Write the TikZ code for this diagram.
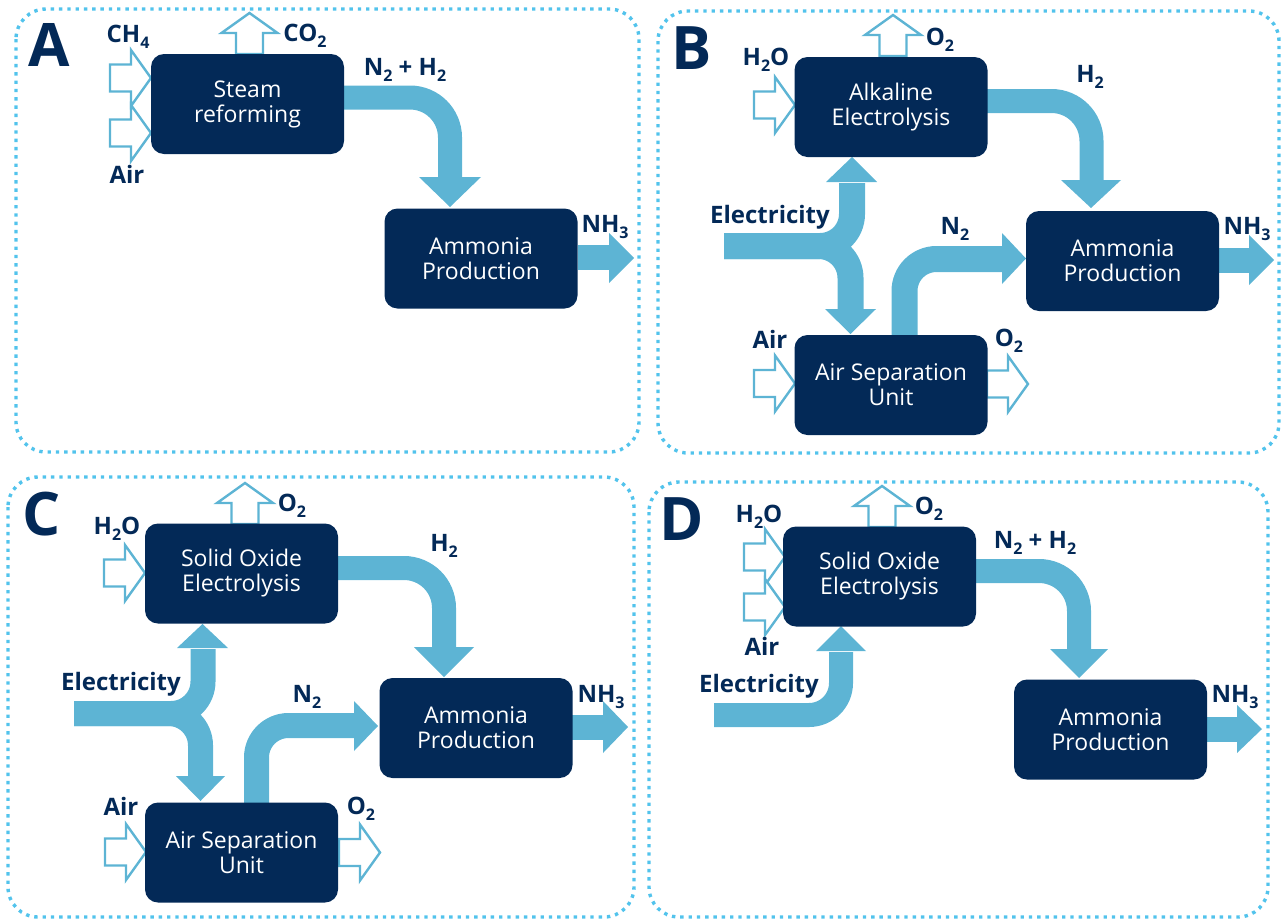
\documentclass[tikz,border=0pt]{standalone}
\usepackage{fontspec}
\setmainfont{Open Sans}
\definecolor{navy}{HTML}{032957}
\definecolor{lblue}{HTML}{5DB4D4}
\definecolor{dotc}{HTML}{52C3EC}
\newcommand\lsub[1]{\raisebox{-0.25em}{\fontsize{16}{16}\selectfont #1}}
\tikzset{
  openarr/.pic={\draw[lblue, line width=2.4pt, fill=white, line join=miter]
    (0,0) -- (-20,-28) -- (-20,-13.5) -- (-41,-13.5) -- (-41,13.5) -- (-20,13.5) -- (-20,28) -- cycle;}
}
\begin{document}
\begin{tikzpicture}[x=1pt,y=-1pt,
  box/.style={fill=navy, rounded corners=13pt, minimum width=193pt, minimum height=100pt,
    inner sep=0pt, text=white, align=center, font=\fontsize{23}{25}\selectfont},
  lbl/.style={text=navy, inner sep=0pt, font=\fontsize{24}{24}\selectfont\bfseries},
  letter/.style={text=navy, inner sep=0pt, font=\fontsize{60}{60}\selectfont\bfseries},
  frame/.style={draw=dotc, line width=3.4pt, dash pattern=on 3.4pt off 4.9pt, rounded corners=30pt},
  band/.style={draw=lblue, line width=24pt},
  head/.style={fill=lblue}]
\useasboundingbox (0,0) rectangle (1282,919);

% ---------- frames
\draw[frame] (16,9) rectangle (639,452);
\draw[frame] (658,11) rectangle (1279,453);
\draw[frame] (8,477) rectangle (634,917);
\draw[frame] (649,482) rectangle (1268,917);

% ================= Panel A
\node[letter] (lA) at (49,45) {A};
\draw[band, rounded corners=40pt] (344,97.5) -- (450,97.5) -- (450,178);
\fill[head] (419,177) -- (481,177) -- (450,207) -- cycle;
\draw[band, line width=25pt] (578,257.5) -- (610,257.5);
\fill[head] (609,233) -- (634,258) -- (609,283) -- cycle;
\pic at (151,78) {openarr};
\pic at (151,133) {openarr};
\pic[rotate=90] at (249.5,13) {openarr};
\node[box] (srA) at (247.5,104) {Steam\\reforming};
\node[box] (apA) at (481,258.5) {Ammonia\\Production};
\node[lbl] (ch4A) at (128,37) {CH\lsub{4}};
\node[lbl] (co2A) at (305,36) {CO\lsub{2}};
\node[lbl] (airA) at (127,174) {Air};
\node[lbl] (nhA) at (405,70) {N\lsub{2} + H\lsub{2}};
\node[lbl] (nh3A) at (605,227) {NH\lsub{3}};

% ================= Panel B
\node[letter] (lB) at (692,48) {B};
\draw[band, rounded corners=40pt] (987,101) -- (1091.5,101) -- (1091.5,181);
\fill[head] (1061,180) -- (1121,180) -- (1091,208) -- cycle;
\draw[band, line width=25pt] (1219,260) -- (1250,260);
\fill[head] (1249,235) -- (1274,260) -- (1249,285) -- cycle;
\draw[band, line width=26pt, rounded corners=32pt] (724,246) -- (852,246) -- (852,183);
\fill[head] (826,182) -- (877,182) -- (852,157) -- cycle;
\draw[band, line width=26pt, rounded corners=32pt] (724,246) -- (850.5,246) -- (850.5,310);
\fill[head] (825,309) -- (876,309) -- (850.5,334) -- cycle;
\draw[band, line width=26pt, rounded corners=32pt] (904.5,336) -- (904.5,259) -- (1003,259);
\fill[head] (1002,233) -- (1002,284) -- (1026,258.5) -- cycle;
\pic at (795,105) {openarr};
\pic[rotate=90] at (893,15) {openarr};
\pic at (795,383.5) {openarr};
\pic at (1028,384) {openarr};
\node[box] (aeB) at (891,107) {Alkaline\\Electrolysis};
\node[box] (apB) at (1122.5,261) {Ammonia\\Production};
\node[box] (asB) at (891,385) {Air Separation\\Unit};
\node[lbl] (h2oB) at (766,60) {H\lsub{2}O};
\node[lbl] (o2B) at (940,40) {O\lsub{2}};
\node[lbl] (h2B) at (1090,77) {H\lsub{2}};
\node[lbl] (nh3B) at (1247,229) {NH\lsub{3}};
\node[lbl] (elB) at (770,217) {Electricity};
\node[lbl] (n2B) at (955,229) {N\lsub{2}};
\node[lbl] (airB) at (770,339) {Air};
\node[lbl] (o2bB) at (1009,341) {O\lsub{2}};

% ================= Panel C
\node[letter] (lC) at (42,514) {C};
\draw[band, rounded corners=40pt] (338,568) -- (444,568) -- (444,648);
\fill[head] (414,647) -- (474,647) -- (444,677) -- cycle;
\draw[band, line width=25pt] (572,727.5) -- (604,727.5);
\fill[head] (603,701) -- (628,727) -- (603,753) -- cycle;
\draw[band, line width=25pt, rounded corners=32pt] (74,713.5) -- (203,713.5) -- (203,649);
\fill[head] (177,648) -- (228,648) -- (202.5,624) -- cycle;
\draw[band, line width=25pt, rounded corners=32pt] (74,713.5) -- (200.5,713.5) -- (200.5,777);
\fill[head] (176,776) -- (225,776) -- (200.5,801) -- cycle;
\draw[band, line width=25pt, rounded corners=32pt] (256.5,803) -- (256.5,725.5) -- (355,725.5);
\fill[head] (354,701) -- (354,751) -- (378,726) -- cycle;
\pic at (145,573) {openarr};
\pic[rotate=90] at (245,483) {openarr};
\pic at (146,852) {openarr};
\pic at (380,852.5) {openarr};
\node[box] (soC) at (241.5,573.5) {Solid Oxide\\Electrolysis};
\node[box] (apC) at (476,728) {Ammonia\\Production};
\node[box] (asC) at (241.5,852.5) {Air Separation\\Unit};
\node[lbl] (h2oC) at (117,529) {H\lsub{2}O};
\node[lbl] (o2C) at (292,506) {O\lsub{2}};
\node[lbl] (h2C) at (444,546) {H\lsub{2}};
\node[lbl] (nh3C) at (601,697) {NH\lsub{3}};
\node[lbl] (elC) at (121,684) {Electricity};
\node[lbl] (n2C) at (307,697) {N\lsub{2}};
\node[lbl] (airC) at (121,806) {Air};
\node[lbl] (o2bC) at (361,809) {O\lsub{2}};

% ================= Panel D
\node[letter] (lD) at (682,519) {D};
\draw[band, rounded corners=40pt] (975,571) -- (1079,571) -- (1079,650);
\fill[head] (1050,649) -- (1108,649) -- (1079,678) -- cycle;
\draw[band, line width=25pt] (1206,729.5) -- (1238,729.5);
\fill[head] (1237,705) -- (1262,729) -- (1237,753) -- cycle;
\draw[band, line width=24pt, rounded corners=32pt] (714,715) -- (841,715) -- (841,652);
\fill[head] (816,651) -- (866,651) -- (841,626) -- cycle;
\pic at (785,557) {openarr};
\pic at (785,607) {openarr};
\pic[rotate=90] at (882,486) {openarr};
\node[box] (soD) at (879.5,576.5) {Solid Oxide\\Electrolysis};
\node[box] (apD) at (1110.5,729.5) {Ammonia\\Production};
\node[lbl] (h2oD) at (759,517) {H\lsub{2}O};
\node[lbl] (o2D) at (929,509) {O\lsub{2}};
\node[lbl] (airD) at (762,646) {Air};
\node[lbl] (nhD) at (1035,543) {N\lsub{2} + H\lsub{2}};
\node[lbl] (nh3D) at (1235,697) {NH\lsub{3}};
\node[lbl] (elD) at (759,686) {Electricity};
\end{tikzpicture}
\end{document}
